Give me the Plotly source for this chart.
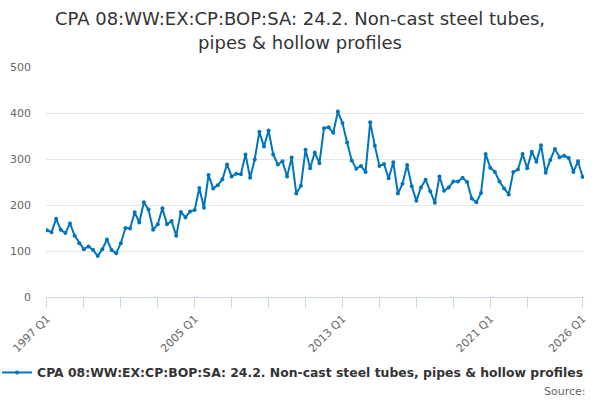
import plotly.graph_objects as go

# Quarterly categories 1997 Q1 .. 2026 Q1
quarters = [f"{y} Q{q}" for y in range(1997, 2027) for q in range(1, 5)][:117]

values = [
    145, 141, 170, 146, 139, 160, 133, 117, 104, 110,
    102, 89, 104, 125, 102, 95, 117, 150, 149, 184,
    162, 206, 190, 146, 158, 193, 158, 165, 133, 185,
    173, 186, 189, 237, 194, 265, 236, 243, 256, 288,
    262, 268, 267, 310, 259, 299, 359, 327, 362, 310,
    288, 295, 262, 303, 225, 242, 320, 280, 314, 291,
    367, 369, 357, 403, 378, 336, 297, 279, 285, 272,
    380, 329, 285, 289, 258, 293, 225, 246, 287, 241,
    209, 238, 255, 230, 205, 262, 231, 238, 251, 251,
    259, 250, 214, 206, 226, 311, 281, 272, 251, 236,
    223, 272, 277, 311, 280, 316, 294, 330, 270, 298,
    322, 304, 307, 302, 272, 295, 261,
]

tick_idx = list(range(0, 105, 8)) + [116]
label_idx = [0, 32, 64, 96, 116]
tick_vals = [quarters[i] for i in tick_idx]
tick_text = [quarters[i] if i in label_idx else "" for i in tick_idx]

series_name = "CPA 08:WW:EX:CP:BOP:SA: 24.2. Non-cast steel tubes, pipes & hollow profiles"
title_text = "CPA 08:WW:EX:CP:BOP:SA: 24.2. Non-cast steel tubes,<br>pipes & hollow profiles"

color = "#0075be"
font_family = "DejaVu Sans, Verdana, sans-serif"

fig = go.Figure()
fig.add_trace(go.Scatter(
    x=quarters, y=values, mode="lines+markers", name=series_name,
    line=dict(color=color, width=2),
    marker=dict(color=color, size=4),
))

fig.update_layout(
    width=600, height=400,
    margin=dict(l=46, r=16, t=67, b=103, autoexpand=False),
    paper_bgcolor="white", plot_bgcolor="white",
    font=dict(family=font_family, color="#666666", size=11),
    title=dict(text=title_text, x=0.5, xanchor="center", y=0.937, yanchor="middle",
               font=dict(size=18, color="#333333", family=font_family)),
    showlegend=True,
    legend=dict(orientation="h", x=-0.091, xanchor="left", y=-0.33, yanchor="middle",
                font=dict(size=12.4, color="#333333", family=font_family, weight="bold"),
                itemwidth=30),
    xaxis=dict(
        type="category", range=[-0.2, 116.3], automargin=False,
        tickmode="array", tickvals=tick_vals, ticktext=tick_text,
        tickangle=-45, ticks="outside", ticklen=10, tickcolor="#ccd6eb",
        showline=True, linecolor="#ccd6eb", linewidth=1,
        showgrid=False, zeroline=False,
        tickfont=dict(size=11, color="#666666"),
    ),
    yaxis=dict(
        range=[0, 500], tickvals=[0, 100, 200, 300, 400, 500], automargin=False,
        showgrid=True, gridcolor="#e6e6e6", gridwidth=1,
        zeroline=False, showline=False, ticklabelstandoff=14,
        tickfont=dict(size=11, color="#666666"),
    ),
    annotations=[dict(text="Source:", xref="paper", yref="paper", x=1.0074, y=-0.409,
                      xanchor="right", yanchor="middle", showarrow=False,
                      font=dict(size=11, color="#666666", family=font_family))],
)

fig.write_html("out.html", config={"displayModeBar": False},
               post_script="document.body.style.margin='0';")
